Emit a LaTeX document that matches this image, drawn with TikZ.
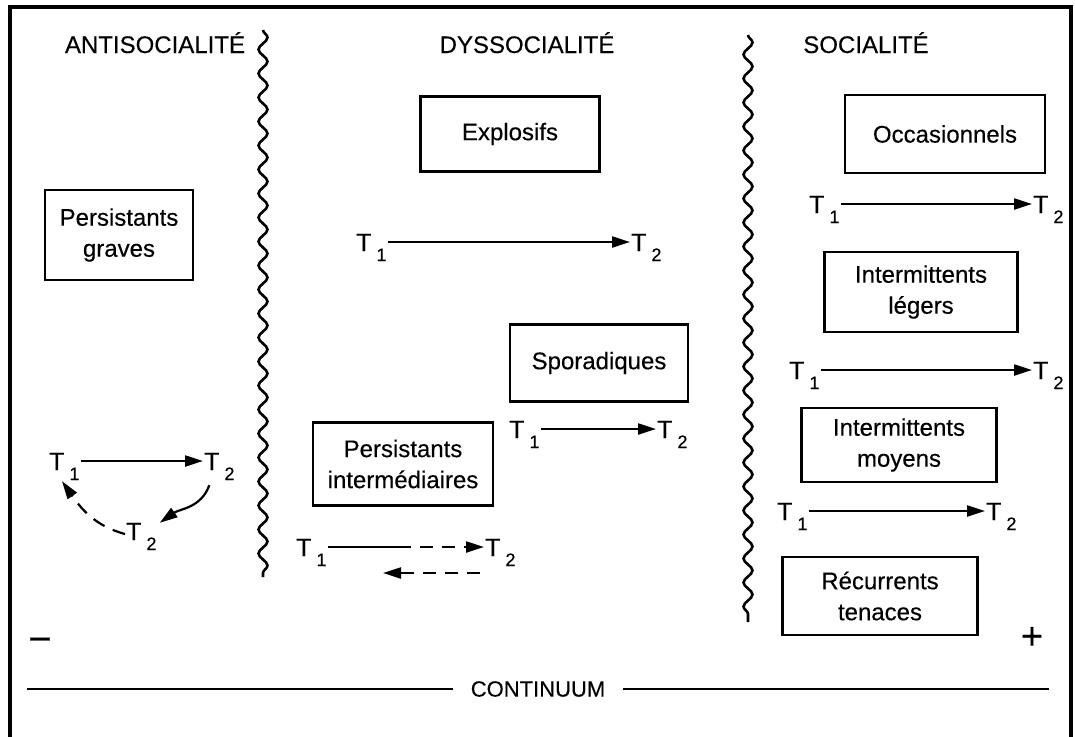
\documentclass[tikz,border=0pt]{standalone}
\usepackage{fontspec}
\setmainfont[FakeBold=0.3]{Liberation Sans}
\usetikzlibrary{arrows.meta,decorations.pathmorphing}

\newcommand{\Tnum}[1]{T\hspace{5pt}\raisebox{-10pt}{\fontsize{18}{18}\selectfont #1}}

\tikzset{
  box/.style={draw, line width=2.4pt, inner sep=0pt, align=center,
    font=\fontsize{24}{31}\selectfont},
  head/.style={anchor=base, font=\fontsize{24}{24}\selectfont},
  tlab/.style={anchor=west, inner sep=1pt, text height=18pt, text depth=0pt,
    font=\fontsize{25}{25}\selectfont},
  arr/.style={line width=2.2pt, -{Triangle[length=18pt,width=11pt]}},
  dsh/.style={dash pattern=on 13pt off 9pt},
  wavy/.style={line width=2.6pt, decorate,
    decoration={snake, amplitude=4.5pt, segment length=24pt}}
}

\begin{document}
\begin{tikzpicture}[x=1pt,y=1pt]
\useasboundingbox (0,0) rectangle (1075,-736);
\fill[white] (0,0) rectangle (1075,-736);
\draw[line width=4pt] (10,-745) |- (1071,-7) -- (1071,-745);

% column titles
\node[head] (anti) at (155,-53) {ANTISOCIALITÉ};
\node[head] (dys)  at (527,-53) {DYSSOCIALITÉ};
\node[head] (soc)  at (866,-53) {SOCIALITÉ};

% borders between the columns
\draw[wavy] (263,-30) -- (263,-577);
\draw[wavy] (748,-35) -- (748,-622);

% antisocialite
\node[box, minimum width=148pt, minimum height=90pt] (graves) at (119,-235) {Persistants\\graves};
\node[tlab] (lt1) at (48,-461) {\Tnum{1}};
\node[tlab] (lt2) at (203,-461) {\Tnum{2}};
\node[tlab] (lt3) at (125,-531) {\Tnum{2}};
\draw[arr] (lt1) -- (lt2);
\draw[arr] ([xshift=-10pt,yshift=-14pt]lt2.south) to[out=-110,in=35] ([xshift=2pt,yshift=-2pt]lt3.north east);
\draw[arr,dsh] ([yshift=-3pt]lt3.west) to[out=165,in=-55] ([xshift=14pt,yshift=-10pt]lt1.south west);

% dyssocialite
\node[box, minimum width=179pt, minimum height=75pt] (explo) at (510,-134) {Explosifs};
\node[tlab] (xt1) at (355,-242) {\Tnum{1}};
\node[tlab] (xt2) at (630,-242) {\Tnum{2}};
\draw[arr] (xt1) -- (xt2);

\node[box, minimum width=178pt, minimum height=77pt] (spora) at (599,-363) {Sporadiques};
\node[tlab] (st1) at (508,-429) {\Tnum{1}};
\node[tlab] (st2) at (656,-429) {\Tnum{2}};
\draw[arr] (st1) -- (st2);

\node[box, minimum width=180pt, minimum height=83pt] (inter) at (403,-464) {Persistants\\intermédiaires};
\node[tlab] (pt1) at (295,-547) {\Tnum{1}};
\node[tlab] (pt2) at (484,-547) {\Tnum{2}};
\coordinate (pmid) at (398,-547);
\coordinate (ra) at (480,-573);
\coordinate (rb) at (383,-573);
\draw[line width=2.2pt] (pt1) -- (pmid);
\draw[arr,dsh] (pmid) -- (pt2);
\draw[arr,dsh] (ra) -- (rb);

% socialite
\node[box, minimum width=200pt, minimum height=78pt] (occa) at (945,-134) {Occasionnels};
\node[tlab] (ot1) at (808,-204) {\Tnum{1}};
\node[tlab] (ot2) at (1032,-204) {\Tnum{2}};
\draw[arr] (ot1) -- (ot2);

\node[box, minimum width=193pt, minimum height=80pt] (leger) at (921,-292) {Intermittents\\légers};
\node[tlab] (gt1) at (788,-370) {\Tnum{1}};
\node[tlab] (gt2) at (1032,-370) {\Tnum{2}};
\draw[arr] (gt1) -- (gt2);

\node[box, minimum width=195pt, minimum height=74pt] (moyen) at (899,-445) {Intermittents\\moyens};
\node[tlab] (mt1) at (776,-511) {\Tnum{1}};
\node[tlab] (mt2) at (985,-511) {\Tnum{2}};
\draw[arr] (mt1) -- (mt2);

\node[box, minimum width=195pt, minimum height=78pt] (tenace) at (880,-596) {Récurrents\\tenaces};

% continuum
\node[font=\fontsize{40}{40}\selectfont] (moins) at (40,-645) {−};
\node[font=\fontsize{38}{38}\selectfont] (plus) at (1032,-638) {+};
\node[font=\fontsize{22}{22}\selectfont] (cont) at (538,-689) {CONTINUUM};
\coordinate (lend) at (27,-689);
\coordinate (rend) at (1049,-689);
\draw[line width=2.4pt] (lend) -- ([xshift=-14pt]cont.west);
\draw[line width=2.4pt] ([xshift=14pt]cont.east) -- (rend);
\end{tikzpicture}
\end{document}
